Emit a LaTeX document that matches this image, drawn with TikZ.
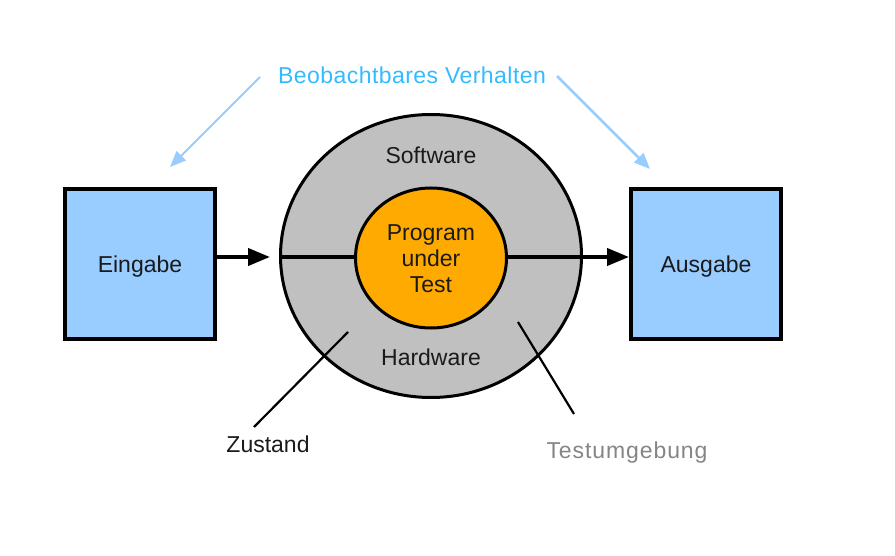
\documentclass[tikz,border=0pt]{standalone}
\usepackage{fontspec}
\setmainfont{Liberation Sans}
\newfontfamily\spacedfont[LetterSpace=4]{Liberation Sans}
\newfontfamily\lightspacedfont[LetterSpace=2]{Liberation Sans}
\usetikzlibrary{shapes.geometric,arrows.meta}
\definecolor{boxblue}{HTML}{99CCFF}
\definecolor{ringgray}{HTML}{C0C0C0}
\definecolor{putorange}{HTML}{FFAA00}
\definecolor{obsblue}{HTML}{33BBFF}
\definecolor{obsarrow}{HTML}{99CCFF}
\definecolor{envgray}{HTML}{858585}
\definecolor{txt}{HTML}{1A1A1A}
\begin{document}
\begin{tikzpicture}[x=1pt,y=-1pt,
  font=\fontsize{23}{26}\selectfont,
  iobox/.style={draw=black,line width=4pt,fill=boxblue,minimum width=150pt,minimum height=150pt,inner sep=0pt,text=txt,text depth=0pt},
  ring/.style={ellipse,draw=black,line width=3pt,inner sep=0pt},
  label/.style={text=txt,inner sep=0pt},
  flow/.style={line width=4pt,-{Triangle[length=22pt,width=17pt]}},
  pointer/.style={line width=2.2pt},
  obs/.style={draw=obsarrow,line width=2pt,-{Triangle[length=16pt,width=13pt]}}]
\useasboundingbox (0,0) rectangle (895,556);
% boxes
\node[iobox] (eingabe) at (140,264) {Eingabe};
\node[iobox] (ausgabe) at (706,264) {Ausgabe};
% rings
\node[ring,fill=ringgray,minimum width=301pt,minimum height=283pt] (outer) at (431,256) {};
\node[ring,fill=putorange,minimum width=151pt,minimum height=140pt] (inner) at (431,258) {};
% lines through the ring
\draw[line width=4pt] (outer.west |- 0,257) -- (inner.west |- 0,257);
\draw[flow] (eingabe.east |- 0,257) -- ([xshift=-9pt]outer.west |- 0,257);
\draw[flow] (inner.east |- 0,257) -- (ausgabe.west |- 0,257);
% texts in the ring
\node[label] (software) at (431,155) {Software};
\node[label,align=center] (put) at (431,259) {Program\\under\\Test};
\node[label] (hardware) at (431,357) {Hardware};
% pointers
\coordinate (zin) at (348,332);
\coordinate (zout) at (254,427);
\node[label] (zustand) at (268,444) {Zustand};
\draw[pointer] (zin) -- (zout);
\coordinate (tin) at (518,322);
\coordinate (tout) at (574,414);
\node[label,text=envgray,font=\spacedfont\fontsize{23}{26}\selectfont] (testumg) at (627,453) {Testumgebung};
\draw[pointer] (tin) -- (tout);
% observable behaviour
\node[inner sep=0pt,text=obsblue,font=\lightspacedfont\fontsize{23}{26}\selectfont] (obs) at (412,75) {Beobachtbares Verhalten};
\coordinate (obsl) at (260,77);
\coordinate (obsltip) at (170,167);
\coordinate (obsr) at (557,76);
\coordinate (obsrtip) at (650,169);
\draw[obs] (obsl) -- (obsltip);
\draw[obs,line width=2.6pt] (obsr) -- (obsrtip);
\end{tikzpicture}
\end{document}
